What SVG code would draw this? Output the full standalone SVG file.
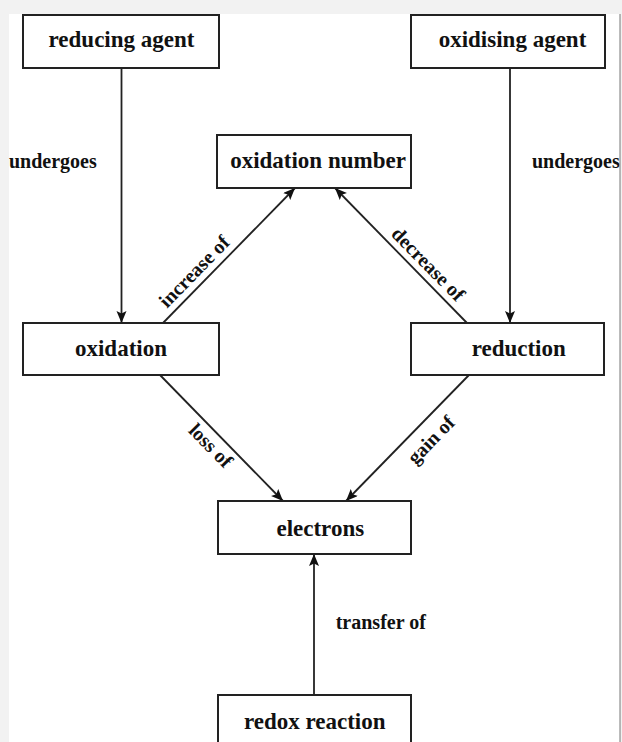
<svg xmlns="http://www.w3.org/2000/svg" width="622" height="742" viewBox="0 0 622 742">
  <style>
    .box { fill: #ffffff; stroke: #222222; stroke-width: 2; }
    .node-text { font-family: "Liberation Serif", "Times New Roman", serif; font-weight: bold; font-size: 23px; fill: #111111; text-anchor: middle; }
    .label { font-family: "Liberation Serif", "Times New Roman", serif; font-weight: bold; font-size: 20px; fill: #111111; }
    .mid { text-anchor: middle; }
    .edge { stroke: #222222; stroke-width: 1.8; fill: none; marker-end: url(#arrow); }
  </style>
  <defs>
    <marker id="arrow" markerUnits="userSpaceOnUse" markerWidth="13" markerHeight="11" refX="12" refY="5" orient="auto">
      <path d="M0,0 L12,5 L0,10 L2.5,5 Z" fill="#111111"/>
    </marker>
  </defs>

  <!-- page -->
  <rect x="0" y="0" width="622" height="742" fill="#f2f2f2"/>
  <rect x="9" y="14" width="611" height="728" fill="#ffffff"/>

  <!-- connectors -->
  <g id="connectors">
    <line class="edge" x1="121.5" y1="68" x2="121.5" y2="323"/>
    <line class="edge" x1="510" y1="68" x2="510" y2="323"/>
    <line class="edge" x1="163" y1="323" x2="295" y2="188"/>
    <line class="edge" x1="467" y1="323" x2="335" y2="188"/>
    <line class="edge" x1="160" y1="375" x2="283" y2="501"/>
    <line class="edge" x1="469" y1="375" x2="346" y2="501"/>
    <line class="edge" x1="314" y1="695" x2="314" y2="554"/>

    <text class="label" x="9" y="168">undergoes</text>
    <text class="label" x="532" y="168">undergoes</text>
    <text class="label" x="335.7" y="629">transfer of</text>
    <text class="label mid" transform="translate(204,281) rotate(-45.6)" x="0" y="-7">increase of</text>
    <text class="label mid" transform="translate(418.5,273.7) rotate(45.4)" x="0" y="-7">decrease of</text>
    <text class="label mid" transform="translate(220.2,436.2) rotate(45.5)" x="0" y="20">loss of</text>
    <text class="label mid" transform="translate(418,427) rotate(-45.5)" x="0" y="25">gain of</text>
  </g>

  <!-- nodes -->
  <g id="reducing-agent">
    <rect class="box" x="23" y="15" width="196" height="53"/>
    <text class="node-text" x="121.5" y="46.5">reducing agent</text>
  </g>
  <g id="oxidising-agent">
    <rect class="box" x="411" y="15" width="194" height="53"/>
    <text class="node-text" x="512.5" y="46.5">oxidising agent</text>
  </g>
  <g id="oxidation-number">
    <rect class="box" x="217" y="135" width="194" height="53"/>
    <text class="node-text" x="318" y="168">oxidation number</text>
  </g>
  <g id="oxidation">
    <rect class="box" x="23" y="323" width="196" height="52"/>
    <text class="node-text" x="121" y="356">oxidation</text>
  </g>
  <g id="reduction">
    <rect class="box" x="411" y="323" width="193" height="52"/>
    <text class="node-text" x="518.7" y="356">reduction</text>
  </g>
  <g id="electrons">
    <rect class="box" x="218" y="501" width="193" height="53"/>
    <text class="node-text" x="320.3" y="536">electrons</text>
  </g>
  <g id="redox-reaction">
    <rect class="box" x="218" y="695" width="193" height="60"/>
    <text class="node-text" x="314.7" y="729">redox reaction</text>
  </g>

  <!-- right page edge -->
  <rect x="620" y="14" width="2" height="728" fill="#f2f2f2"/>
  <line x1="620" y1="14" x2="620" y2="742" stroke="#777777" stroke-width="1"/>
</svg>
